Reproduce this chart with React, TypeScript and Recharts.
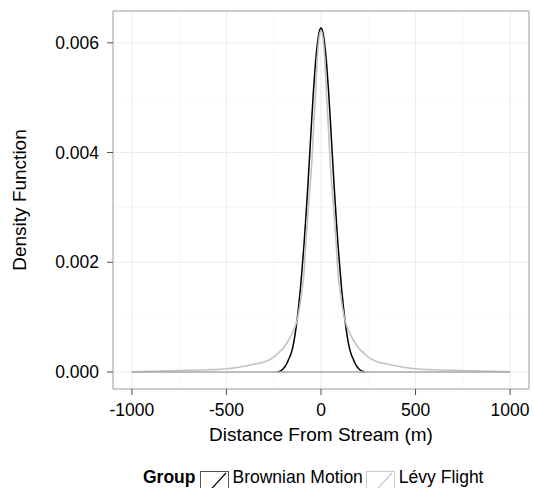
import {
  CartesianGrid,
  Line,
  LineChart,
  ReferenceArea,
  ReferenceLine,
  XAxis,
  YAxis,
} from "recharts";

const FONT = "'Liberation Sans', Arial, Helvetica, sans-serif";

// Brownian Motion density (black)
const brownDistance = [
  -232, -220, -210, -200, -190, -180, -170, -160, -150, -140, -130, -120, -110,
  -100, -90, -80, -70, -60, -50, -40, -30, -20, -10, 0, 10, 20, 30, 40, 50, 60,
  70, 80, 90, 100, 110, 120, 130, 140, 150, 160, 170, 180, 190, 200, 210, 220,
  232,
];
const brownDensity = [
  0, 0.000012, 0.00003, 0.00006, 0.0001, 0.00016, 0.00024, 0.00032, 0.00044,
  0.00062, 0.00086, 0.00114, 0.00148, 0.00188, 0.00232, 0.00282, 0.00336,
  0.00395, 0.00455, 0.00512, 0.0056, 0.00596, 0.00619, 0.00627, 0.00619,
  0.00596, 0.0056, 0.00512, 0.00455, 0.00395, 0.00336, 0.00282, 0.00232,
  0.00188, 0.00148, 0.00114, 0.00086, 0.00062, 0.00044, 0.00032, 0.00024,
  0.00016, 0.0001, 0.00006, 0.00003, 0.000012, 0,
];

// Lévy Flight density (grey)
const levyDistance = [
  -1000, -900, -750, -600, -500, -400, -350, -300, -250, -225, -200, -175,
  -150, -130, -120, -110, -100, -90, -80, -70, -60, -50, -40, -30, -20, -10, 0,
  10, 20, 30, 40, 50, 60, 70, 80, 90, 100, 110, 120, 130, 150, 175, 200, 225,
  250, 300, 350, 400, 500, 600, 750, 900, 1000,
];
const levyDensity = [
  0.000005, 0.000012, 0.000025, 0.00004, 0.000058, 0.00011, 0.000145, 0.00018,
  0.00027, 0.00035, 0.00043, 0.00056, 0.00072, 0.0009, 0.00105, 0.00125,
  0.0015, 0.0018, 0.00235, 0.00285, 0.0033, 0.00375, 0.0044, 0.005, 0.0057,
  0.0061, 0.00622, 0.0061, 0.0057, 0.005, 0.0044, 0.00375, 0.0033, 0.00285,
  0.00235, 0.0018, 0.0015, 0.00125, 0.00105, 0.0009, 0.00072, 0.00056, 0.00043,
  0.00035, 0.00027, 0.00018, 0.000145, 0.00011, 0.000058, 0.00004, 0.000025,
  0.000012, 0.000005,
];

const xTicks = [-1000, -500, 0, 500, 1000];
const xMinor = [-750, -250, 250, 750];
const yTicks = [0, 0.002, 0.004, 0.006];
const yMinor = [0.001, 0.003, 0.005];

const X_DOMAIN: [number, number] = [-1100, 1100];
const Y_DOMAIN: [number, number] = [-0.00031, 0.00658];

const brownData = brownDistance.map((x, i) => ({ x, y: brownDensity[i] }));
const levyData = levyDistance.map((x, i) => ({ x, y: levyDensity[i] }));

function LegendKey({ color, border }: { color: string; border: string }) {
  return (
    <svg width={29} height={29} style={{ display: "block" }}>
      <rect x={0.5} y={0.5} width={28} height={28} fill="white" stroke={border} />
      <line x1={3} y1={27} x2={26} y2={2} stroke={color} strokeWidth={1.2} />
    </svg>
  );
}

export default function App() {
  const tickStyle = { fill: "#000", fontSize: 17.5, fontFamily: FONT };
  return (
    <div
      style={{
        position: "relative",
        width: 534,
        height: 488,
        overflow: "hidden",
        background: "white",
        fontFamily: FONT,
      }}
    >
      <style>{"body{margin:0}"}</style>
      <LineChart
        width={534}
        height={488}
        margin={{ top: 11, right: 5, bottom: 49, left: 0 }}
      >
        <CartesianGrid
          stroke="#f4f4f4"
          strokeWidth={0.6}
          verticalValues={xMinor}
          horizontalValues={yMinor}
        />
        <CartesianGrid
          stroke="#ebebeb"
          strokeWidth={1}
          verticalValues={xTicks}
          horizontalValues={yTicks}
        />
        <XAxis
          type="number"
          dataKey="x"
          domain={X_DOMAIN}
          ticks={xTicks}
          interval={0}
          allowDataOverflow
          height={50}
          tickSize={6}
          tickMargin={9}
          axisLine={false}
          tickLine={{ stroke: "#4d4d4d" }}
          tick={tickStyle}
        />
        <YAxis
          type="number"
          dataKey="y"
          domain={Y_DOMAIN}
          ticks={yTicks}
          interval={0}
          allowDataOverflow
          width={113}
          tickSize={6}
          tickMargin={8}
          axisLine={false}
          tickLine={{ stroke: "#4d4d4d" }}
          tick={tickStyle}
          tickFormatter={(v: number) => v.toFixed(3)}
        />
        <ReferenceArea
          x1={X_DOMAIN[0]}
          x2={X_DOMAIN[1]}
          y1={Y_DOMAIN[0]}
          y2={Y_DOMAIN[1]}
          fill="none"
          stroke="#9a9a9a"
          strokeWidth={1}
          ifOverflow="visible"
        />
        <Line
          data={brownData}
          dataKey="y"
          type="monotone"
          stroke="#000"
          strokeWidth={1.5}
          dot={false}
          activeDot={false}
          isAnimationActive={false}
        />
        <Line
          data={levyData}
          dataKey="y"
          type="monotone"
          stroke="#c2c2c2"
          strokeWidth={1.6}
          dot={false}
          activeDot={false}
          isAnimationActive={false}
        />
        <ReferenceLine
          segment={[
            { x: -1000, y: 0 },
            { x: 1000, y: 0 },
          ]}
          stroke="#aaaaaa"
          strokeWidth={1.3}
        />
      </LineChart>

      <div
        style={{
          position: "absolute",
          left: 19,
          top: 200,
          transform: "translate(-50%, -50%) rotate(-90deg)",
          whiteSpace: "nowrap",
          fontSize: 19,
          lineHeight: "19px",
          color: "#000",
        }}
      >
        Density Function
      </div>
      <div
        style={{
          position: "absolute",
          left: 321,
          top: 425,
          transform: "translateX(-50%)",
          whiteSpace: "nowrap",
          fontSize: 19,
          lineHeight: "19px",
          color: "#000",
        }}
      >
        Distance From Stream (m)
      </div>

      <div
        style={{
          position: "absolute",
          left: 143,
          top: 467,
          display: "flex",
          alignItems: "flex-start",
          whiteSpace: "nowrap",
          fontSize: 17.5,
          lineHeight: "17.5px",
          color: "#000",
        }}
      >
        <span style={{ fontWeight: "bold", marginRight: 4, marginTop: 2 }}>
          Group
        </span>
        <div style={{ marginTop: 4 }}>
          <LegendKey color="#000" border="#555" />
        </div>
        <span style={{ marginLeft: 4, marginRight: 3, marginTop: 2 }}>
          Brownian Motion
        </span>
        <div style={{ marginTop: 4 }}>
          <LegendKey color="#c8c8c8" border="#cccccc" />
        </div>
        <span style={{ marginLeft: 4, marginTop: 2 }}>Lévy Flight</span>
      </div>
    </div>
  );
}
